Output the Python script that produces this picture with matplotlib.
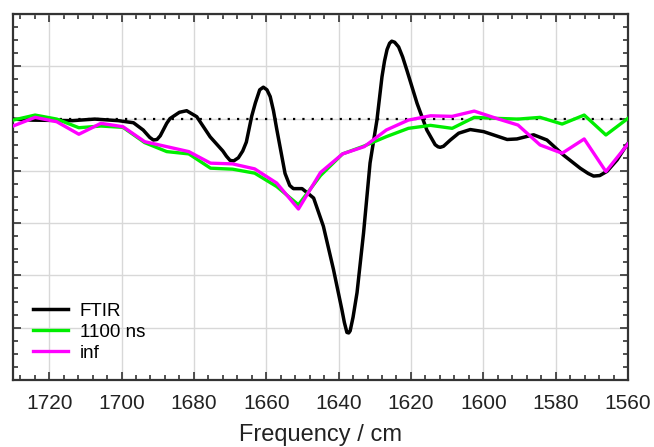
import matplotlib
matplotlib.use("Agg")
import matplotlib.pyplot as plt
from matplotlib.ticker import MultipleLocator, NullFormatter

plt.rcParams['font.family'] = ['Liberation Sans', 'DejaVu Sans']

# FTIR (black)
ftir_freq = [1730.1, 1724.6, 1713.6, 1707.4, 1700.9, 1696.7, 1694.0, 1692.2, 1691.2, 1690.2, 1689.3,
             1687.5, 1686.6, 1684.0, 1682.0, 1679.2, 1675.5, 1672.0, 1671.0, 1670.0, 1669.0, 1667.7,
             1666.5, 1665.5, 1664.0, 1663.0, 1661.8, 1660.8, 1659.8, 1658.9, 1658.0, 1657.1, 1654.8,
             1653.5, 1652.5, 1650.1, 1648.3, 1646.9, 1644.2, 1641.4, 1639.1, 1638.4, 1637.7, 1637.2,
             1636.8, 1636.0, 1634.9, 1633.1, 1631.3, 1629.4, 1628.0, 1627.3, 1626.6, 1625.9, 1625.3,
             1624.5, 1623.4, 1622.3, 1621.1, 1618.3, 1615.6, 1613.3, 1612.5, 1611.9, 1611.0, 1609.1,
             1606.8, 1603.6, 1599.9, 1593.4, 1590.7, 1586.1, 1582.4, 1577.8, 1573.2, 1571.0, 1569.5,
             1567.8, 1565.8, 1563.0, 1560.3]
ftir_vals = [-0.01, -0.03, -0.04, -0.01, -0.04, -0.08, -0.22, -0.36, -0.41, -0.40, -0.33,
             -0.09, 0.00, 0.12, 0.15, 0.035, -0.35, -0.62, -0.72, -0.80, -0.81, -0.75,
             -0.62, -0.45, 0.05, 0.30, 0.55, 0.60, 0.55, 0.42, 0.15, -0.20, -1.05,
             -1.28, -1.34, -1.34, -1.44, -1.52, -2.06, -2.89, -3.65, -3.90, -4.09, -4.10,
             -4.06, -3.80, -3.33, -2.19, -0.85, -0.03, 0.80, 1.10, 1.32, 1.44, 1.48,
             1.46, 1.37, 1.18, 0.92, 0.29, -0.22, -0.50, -0.54, -0.55, -0.53, -0.41,
             -0.28, -0.21, -0.25, -0.40, -0.39, -0.31, -0.41, -0.70, -0.95, -1.05, -1.10,
             -1.09, -1.01, -0.79, -0.50]

# time-resolved spectra
tr_freq = [1730.0, 1723.9, 1717.9, 1711.8, 1705.7, 1699.6, 1693.6, 1687.5, 1681.4,
           1675.4, 1669.3, 1663.2, 1657.1, 1651.1, 1645.0, 1638.9, 1632.9, 1626.8,
           1620.7, 1614.6, 1608.6, 1602.5, 1596.4, 1590.4, 1584.3, 1578.2, 1572.1,
           1566.1, 1560.0]
ns1100_vals = [-0.03, 0.067, -0.01, -0.175, -0.143, -0.168, -0.46, -0.632, -0.676,
               -0.949, -0.968, -1.044, -1.30, -1.65, -1.09, -0.676, -0.524, -0.346,
               -0.187, -0.13, -0.187, 0.023, 0.004, -0.01, 0.023, -0.105, 0.067,
               -0.314, 0.004]
inf_vals = [-0.143, 0.023, -0.061, -0.30, -0.091, -0.156, -0.442, -0.537, -0.632,
            -0.853, -0.867, -0.962, -1.234, -1.73, -1.032, -0.676, -0.537, -0.219,
            -0.029, 0.053, 0.042, 0.143, 0.004, -0.124, -0.505, -0.663, -0.39,
            -1.013, -0.486]

xticks = [1720, 1700, 1680, 1660, 1640, 1620, 1600, 1580, 1560]

fig = plt.figure(figsize=(6.54, 4.47), dpi=100)
ax = fig.add_axes([0.0199, 0.1499, 0.9403, 0.8188])

ax.axhline(0, color='black', linestyle=(0, (1, 3.2)), lw=1.6, zorder=2)
ax.plot(ftir_freq, ftir_vals, color='black', lw=2.5, label='FTIR', zorder=3,
        solid_joinstyle='round')
ax.plot(tr_freq, ns1100_vals, color='#00ee00', lw=2.4, label='1100 ns', zorder=3)
ax.plot(tr_freq, inf_vals, color='#ff00ff', lw=2.4, label='inf', zorder=3)

ax.set_xlim(1730, 1560)
ax.set_ylim(-5, 2)
ax.set_xticks(xticks)
ax.set_xticklabels([str(t) for t in xticks])
ax.xaxis.set_minor_locator(MultipleLocator(4))
ax.yaxis.set_major_locator(MultipleLocator(1))
ax.yaxis.set_minor_locator(MultipleLocator(0.25))
ax.yaxis.set_major_formatter(NullFormatter())
ax.grid(True, which='major', color='#d8d8d8', lw=1.0, zorder=0)
ax.set_axisbelow(True)

ax.tick_params(axis='both', which='both', direction='in', top=True, right=True,
               color='#333333', width=1.2)
ax.tick_params(which='major', length=6)
ax.tick_params(which='minor', length=3.5)
ax.tick_params(axis='x', labelsize=15, pad=10, labelcolor='#222222')
for s in ax.spines.values():
    s.set_color('#333333')
    s.set_linewidth(1.6)

ax.set_xlabel('Frequency / cm', fontsize=17, color='#222222', labelpad=8)

leg = ax.legend(loc='lower left', frameon=False, fontsize=13.5, handlelength=1.9,
                handletextpad=0.6, labelspacing=0.2, borderaxespad=0.0,
                bbox_to_anchor=(0.02, 0.03))

fig.savefig('out.png', dpi=100)
